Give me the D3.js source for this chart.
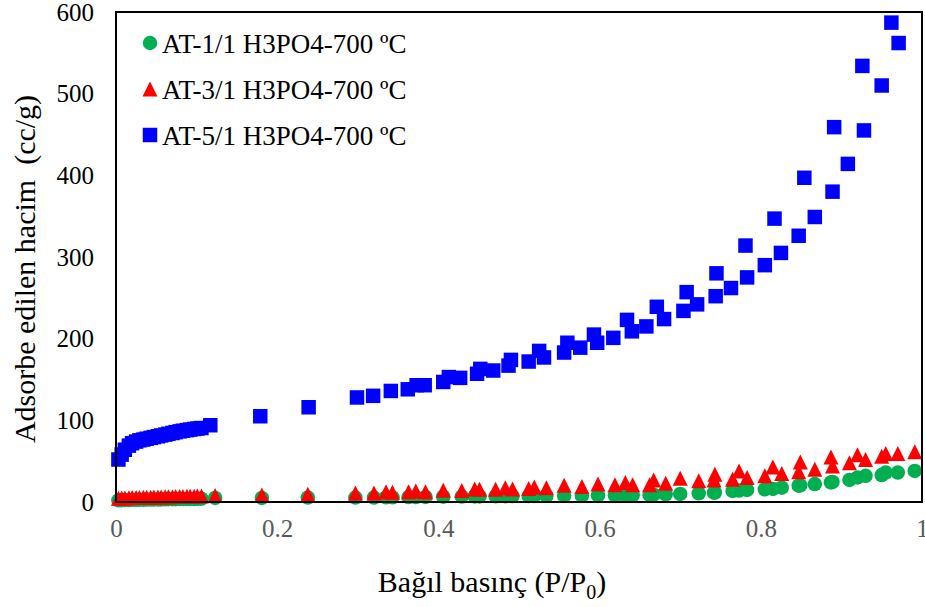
<!DOCTYPE html>
<html>
<head>
<meta charset="utf-8">
<script src="https://cdn.jsdelivr.net/npm/d3@7"></script>
<style>
  body { margin: 0; background: #fff; }
  text { font-family: "Liberation Serif", "Times New Roman", serif; }
</style>
</head>
<body>
<div id="chart"></div>
<script>
// relative pressure for the two low series (AT-1/1 and AT-3/1)
const pLow = [0.003, 0.007, 0.011, 0.016, 0.020, 0.025, 0.029, 0.034, 0.038, 0.043, 0.047, 0.052,
  0.056, 0.061, 0.065, 0.070, 0.074, 0.079, 0.083, 0.088, 0.092, 0.097, 0.101, 0.106,
  0.123, 0.181, 0.238,
  0.297, 0.320, 0.335, 0.343, 0.363, 0.372, 0.384, 0.406, 0.429, 0.445, 0.451, 0.471, 0.483,
  0.492, 0.512, 0.519, 0.534, 0.556, 0.578, 0.598,
  0.619, 0.632, 0.641, 0.662, 0.667, 0.682, 0.700, 0.723, 0.742, 0.743, 0.765, 0.773, 0.783,
  0.805, 0.815, 0.826, 0.847, 0.849, 0.867, 0.887, 0.889, 0.910, 0.920, 0.930, 0.950, 0.955,
  0.970, 0.991];

const at1 = [2.0, 2.2, 2.4, 2.5, 2.6, 2.7, 2.8, 2.9, 3.0, 3.0, 3.1, 3.2, 3.2, 3.3, 3.4, 3.4, 3.5,
  3.6, 3.6, 3.7, 3.8, 3.8, 3.9, 4.0,
  5, 5, 5.5,
  5.5, 5.5, 5.8, 5.8, 6, 6, 6.2, 6.5, 6.6, 6.8, 6.8, 7, 7.1, 7.2, 7.3, 7.4, 7.5, 7.6, 7.8, 8,
  8, 8, 8.2, 8.6, 9, 9.4, 9.8, 10.6, 11.4, 11.5, 13.5, 14, 14.7, 15.5, 16, 17.5, 20, 20.5, 22,
  24, 24.5, 27, 30, 32, 33, 36, 36, 38];

const at3 = [4.5, 4.8, 5.0, 5.2, 5.4, 5.5, 5.6, 5.7, 5.8, 5.9, 6.0, 6.1, 6.2, 6.3, 6.4, 6.5, 6.6,
  6.7, 6.8, 6.9, 7.0, 7.1, 7.2, 7.3,
  8, 8.5, 9.5,
  11, 11, 12.5, 12, 12.5, 13.5, 12.5, 14.5, 14, 16, 15.5, 15.5, 17.5, 16, 16.5, 18.5, 17.5, 20.5,
  19, 22,
  21, 24, 21, 21, 27, 23, 29, 26, 27, 34, 28, 38, 30, 32, 43, 35, 37, 49, 40, 55, 44, 48, 58, 52,
  56, 59.5, 59.5, 61.5];

// AT-5/1
const pHigh = [0.003, 0.007, 0.011, 0.016, 0.020, 0.025, 0.029, 0.034, 0.038, 0.043, 0.047, 0.052,
  0.056, 0.061, 0.065, 0.070, 0.074, 0.079, 0.083, 0.088, 0.092, 0.097, 0.101, 0.106,
  0.117, 0.179, 0.239,
  0.299, 0.319, 0.341, 0.362, 0.373, 0.383, 0.406, 0.413, 0.427, 0.448, 0.452, 0.468, 0.487,
  0.490, 0.512, 0.525, 0.531, 0.556, 0.560, 0.576, 0.593, 0.597, 0.617, 0.634, 0.640, 0.658,
  0.671, 0.680, 0.704, 0.708, 0.721, 0.744, 0.745, 0.763, 0.781, 0.783, 0.805, 0.817, 0.825,
  0.847, 0.854, 0.867, 0.889, 0.891, 0.908, 0.926, 0.928, 0.950, 0.962, 0.971];

const at5 = [52, 58, 64, 69, 72, 74, 75.5, 76.5, 77.5, 78.5, 79.5, 80.5, 81.5, 82.5, 83.5, 84.5,
  85.5, 86.5, 87.3, 88, 88.7, 89.4, 90, 90.6,
  94, 105, 116,
  128, 130, 136, 138, 143, 143, 147, 153, 152, 157, 163, 161, 167, 174, 172, 185, 177, 183, 195,
  189, 205, 195, 201, 223, 209, 215, 239, 224, 234, 257, 242, 252, 280, 262, 314, 275, 290, 347,
  305, 326, 397, 349, 380, 459, 414, 534, 455, 510, 587, 562];

const seriesNames = ["AT-1/1 H3PO4-700 ºC", "AT-3/1 H3PO4-700 ºC", "AT-5/1 H3PO4-700 ºC"];
const xTicks = [0, 0.2, 0.4, 0.6, 0.8, 1];
const yTicks = [0, 100, 200, 300, 400, 500, 600];

(() => {
  const width = 925, height = 607;
  const m = { left: 116, right: 922, top: 12, bottom: 502 };

  const svg = d3.select("#chart").append("svg")
    .attr("width", width)
    .attr("height", height);

  const x = d3.scaleLinear().domain([0, 1]).range([m.left, m.right]);
  const y = d3.scaleLinear().domain([0, 600]).range([m.bottom, m.top]);

  // marker shapes, roughly like the excel ones
  const tri = "M0,-7.5L7.5,7.5L-7.5,7.5Z";
  const markers = [
    { name: seriesNames[0], p: pLow, v: at1, color: "#00b050", path: d3.symbol(d3.symbolCircle, 165)() },
    { name: seriesNames[1], p: pLow, v: at3, color: "#ff0000", path: tri },
    { name: seriesNames[2], p: pHigh, v: at5, color: "#0000ff", path: d3.symbol(d3.symbolSquare, 210)() }
  ];

  // axes
  const xAxis = svg.append("g")
    .attr("transform", `translate(0,${m.bottom})`)
    .call(d3.axisBottom(x).tickValues(xTicks).tickSize(0).tickPadding(17).tickFormat(d3.format("")));
  xAxis.select(".domain").remove();
  xAxis.selectAll("text")
    .attr("font-family", "Liberation Serif")
    .attr("font-size", 25)
    .attr("fill", "#595959");

  const yAxis = svg.append("g")
    .attr("transform", `translate(${m.left},0)`)
    .call(d3.axisLeft(y).tickValues(yTicks).tickSize(0).tickPadding(22));
  yAxis.select(".domain").remove();
  yAxis.selectAll("text")
    .attr("font-family", "Liberation Serif")
    .attr("font-size", 25)
    .attr("fill", "#000");

  // points
  markers.forEach(s => {
    svg.append("g")
      .selectAll("path")
      .data(s.p.map((p, i) => [p, s.v[i]]))
      .join("path")
      .attr("d", s.path)
      .attr("fill", s.color)
      .attr("transform", d => `translate(${x(d[0])},${y(d[1])})`);
  });

  // frame
  svg.append("rect")
    .attr("x", m.left).attr("y", m.top)
    .attr("width", m.right - m.left).attr("height", m.bottom - m.top)
    .attr("fill", "none")
    .attr("stroke", "#000")
    .attr("stroke-width", 2);

  // legend
  const legend = svg.append("g");
  markers.forEach((s, i) => {
    const ly = 43 + i * 46;
    legend.append("path")
      .attr("d", s.path)
      .attr("fill", s.color)
      .attr("transform", `translate(150,${ly})`);
    legend.append("text")
      .attr("x", 162).attr("y", ly + 10)
      .attr("font-size", 27)
      .attr("fill", "#000")
      .text(s.name);
  });

  // titles
  svg.append("text")
    .attr("transform", `translate(35,${(m.top + m.bottom) / 2 + 12}) rotate(-90)`)
    .attr("text-anchor", "middle")
    .attr("font-size", 30)
    .style("white-space", "pre")
    .text("Adsorbe edilen hacim  (cc/g)");

  const xt = svg.append("text")
    .attr("x", 492).attr("y", 592)
    .attr("text-anchor", "middle")
    .attr("font-size", 30);
  xt.append("tspan").text("Bağıl basınç (P/P");
  xt.append("tspan").attr("font-size", 20).attr("dy", 7).text("0");
  xt.append("tspan").attr("dy", -7).text(")");
})();
</script>
</body>
</html>
